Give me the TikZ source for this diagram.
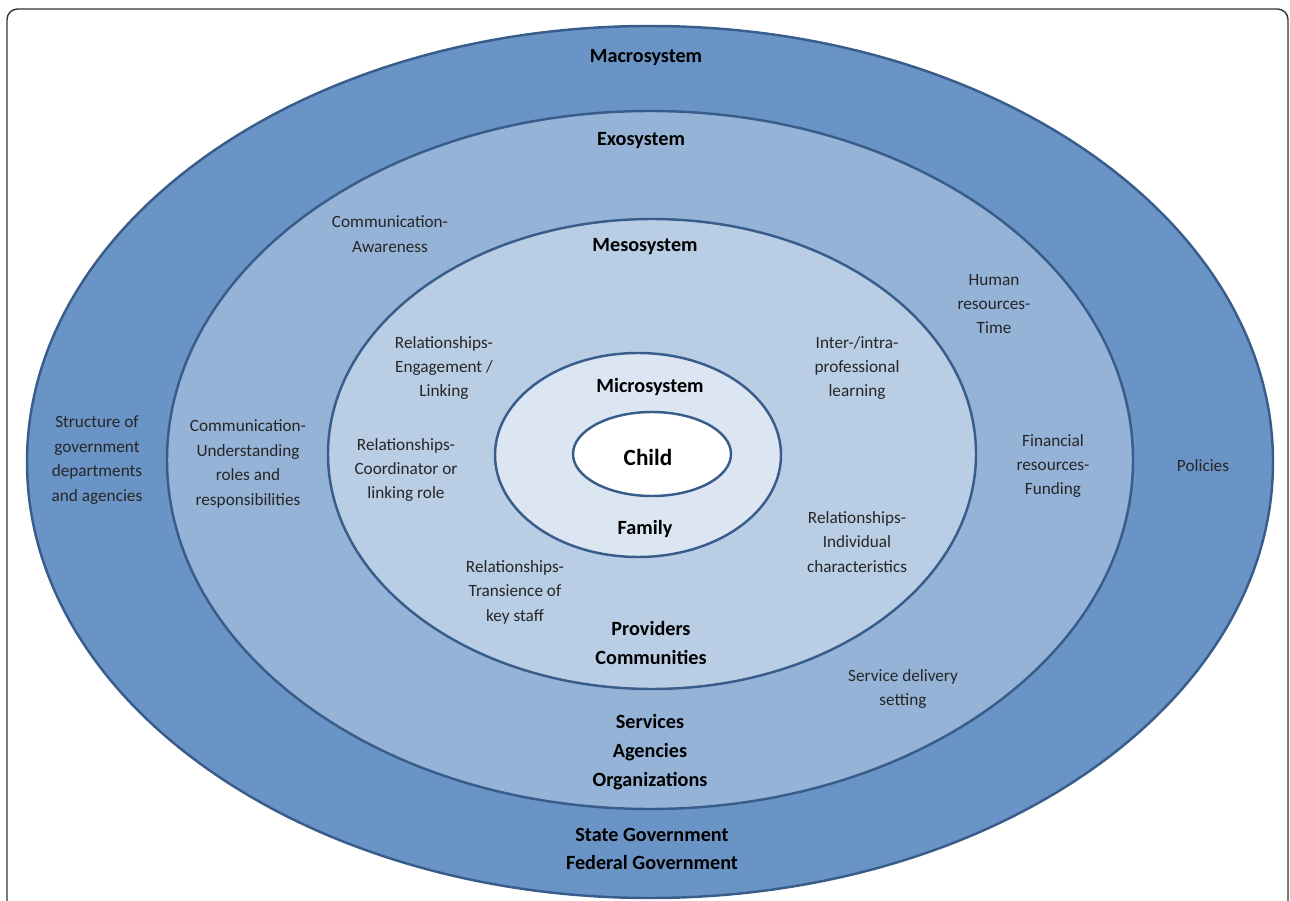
\documentclass[tikz,border=0pt]{standalone}
\usepackage{fontspec}
\setmainfont{Carlito}
\definecolor{macrofill}{RGB}{106,148,197}
\definecolor{exofill}{RGB}{149,179,215}
\definecolor{mesofill}{RGB}{185,205,229}
\definecolor{microfill}{RGB}{220,230,242}
\definecolor{ringline}{RGB}{56,93,138}
\begin{document}
\begin{tikzpicture}[x=0.02cm,y=-0.02cm,
	ring/.style={draw=ringline, line width=1.4pt},
	factor/.style={align=center, text=black!85, inner sep=0pt, font=\fontsize{9.8}{13.9}\selectfont},
	level/.style={align=center, inner sep=0pt, font=\fontsize{11.5}{16.4}\selectfont\bfseries}]
	    \useasboundingbox (0,0) rectangle (1290,901);
	    \clip (0,0) rectangle (1290,901);
	    \draw [line width=0.8pt, draw=black!80, rounded corners=6pt] (7,9) rectangle (1288,940);
	    
	    % nested systems, outermost first
	    \filldraw [ring, fill=macrofill] (650,462) ellipse [x radius=623, y radius=436];
	    \filldraw [ring, fill=exofill] (650,460) ellipse [x radius=483, y radius=349];
	    \filldraw [ring, fill=mesofill] (652,454) ellipse [x radius=324, y radius=235];
	    \filldraw [ring, fill=microfill] (638,455) ellipse [x radius=143, y radius=102];
	    \filldraw [ring, fill=white] (652,454) ellipse [x radius=79, y radius=42];
	    
	    % level names
	    \node [level] (MAC) at (646,58) {Macrosystem};
	    \node [level] (EXO) at (641,141) {Exosystem};
	    \node [level] (MES) at (645,247) {Mesosystem};
	    \node [level] (MIC) at (650,387) {Microsystem};
	    \node [inner sep=0pt, font=\fontsize{13.2}{16}\selectfont\bfseries] (CH) at (648,457) {Child};
	    \node [level] (FA) at (645,529) {Family};
	    \node [level] (PC) at (651,643) {Providers\\Communities};
	    \node [level] (SAO) at (650,752) {Services\\Agencies\\Organizations};
	    \node [level, font=\fontsize{11.5}{15.9}\selectfont\bfseries] (GOV) at (652,849) {State Government\\Federal Government};
	    
	    % macrosystem factors
	    \node [factor] (MA1) at (97,460) {Structure of\\government\\departments\\and agencies};
	    \node [factor] (MA2) at (1203,466) {Policies};
	    
	    % exosystem factors
	    \node [factor] (EX1) at (390,234) {Communication-\\Awareness};
	    \node [factor] (EX2) at (248,464) {Communication-\\Understanding\\roles and\\responsibilities};
	    \node [factor] (EX3) at (994,304) {Human\\resources-\\Time};
	    \node [factor] (EX4) at (1053,466) {Financial\\resources-\\Funding};
	    \node [factor] (EX5) at (903,689) {Service delivery\\setting};
	    
	    % mesosystem factors
	    \node [factor] (ME1) at (444,368) {Relationships-\\Engagement /\\Linking};
	    \node [factor] (ME2) at (406,470) {Relationships-\\Coordinator or\\linking role};
	    \node [factor] (ME3) at (515,592) {Relationships-\\Transience of\\key staff};
	    \node [factor] (ME4) at (857,368) {Inter-/intra-\\professional\\learning};
	    \node [factor] (ME5) at (857,542) {Relationships-\\Individual\\characteristics};
	    
	\end{tikzpicture}
\end{document}
